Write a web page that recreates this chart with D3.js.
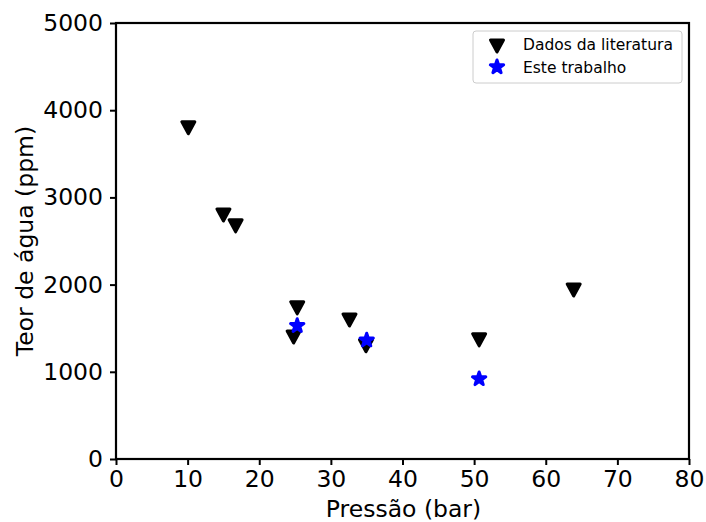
<!DOCTYPE html>
<html>
<head>
<meta charset="utf-8">
<script src="https://cdn.jsdelivr.net/npm/d3@7"></script>
<style>
  body { margin: 0; background: #fff; }
  svg { display: block; font-family: "DejaVu Sans", sans-serif; }
</style>
</head>
<body>
<svg id="chart" width="706" height="522"></svg>
<script>
// Literature data: pressure (bar) and water content (ppm)
const litPressure = [10.1, 15.0, 16.7, 25.3, 24.8, 32.6, 34.9, 50.7, 63.9];
const litWater    = [3810, 2810, 2685, 1745, 1410, 1605, 1310, 1378, 1950];
// This work
const ownPressure = [25.3, 35.0, 50.7];
const ownWater    = [1528, 1362, 918];

const xTicks = [0, 10, 20, 30, 40, 50, 60, 70, 80];
const yTicks = [0, 1000, 2000, 3000, 4000, 5000];
const legendLabels = ["Dados da literatura", "Este trabalho"];

const svg = d3.select("#chart");
const m = { left: 116, top: 23, right: 689, bottom: 459 };

const x = d3.scaleLinear().domain([0, 80]).range([m.left, m.right]);
const y = d3.scaleLinear().domain([0, 5000]).range([m.bottom, m.top]);

// axes
const xAxis = svg.append("g").attr("transform", `translate(0,${m.bottom})`)
  .call(d3.axisBottom(x).tickValues(xTicks).tickSize(6).tickPadding(5).tickFormat(d3.format("d")));
const yAxis = svg.append("g").attr("transform", `translate(${m.left},0)`)
  .call(d3.axisLeft(y).tickValues(yTicks).tickSize(6).tickPadding(7).tickFormat(d3.format("d")));
[xAxis, yAxis].forEach(g => {
  g.select(".domain").remove();
  g.selectAll(".tick line").attr("stroke", "#000").attr("stroke-width", 2);
  g.selectAll(".tick text").attr("fill", "#000").style("font-size", "23.5px")
    .style("font-family", "DejaVu Sans, sans-serif");
});

// frame
svg.append("rect").attr("x", m.left).attr("y", m.top)
  .attr("width", m.right - m.left).attr("height", m.bottom - m.top)
  .attr("fill", "none").attr("stroke", "#000").attr("stroke-width", 2.2);

// axis titles
svg.append("text").attr("x", (m.left + m.right) / 2 + 1).attr("y", 517)
  .attr("text-anchor", "middle").style("font-size", "23.5px").text("Pressão (bar)");
svg.append("text").attr("transform", `translate(33,${(m.top + m.bottom) / 2}) rotate(-90)`)
  .attr("text-anchor", "middle").style("font-size", "23.5px").text("Teor de água (ppm)");

// markers
const triPath = "M-6.5,-5 L6.5,-5 L0,7 Z";
const star = d3.symbol().type(d3.symbolStar).size(55)();

svg.append("g").selectAll("path").data(d3.range(litPressure.length)).join("path")
  .attr("d", triPath)
  .attr("transform", i => `translate(${x(litPressure[i])},${y(litWater[i])})`)
  .attr("fill", "#000").attr("stroke", "#000").attr("stroke-width", 3)
  .attr("stroke-linejoin", "round");

svg.append("g").selectAll("path").data(d3.range(ownPressure.length)).join("path")
  .attr("d", star)
  .attr("transform", i => `translate(${x(ownPressure[i])},${y(ownWater[i])})`)
  .attr("fill", "#0000ff").attr("stroke", "#0000ff").attr("stroke-width", 3)
  .attr("stroke-linejoin", "round");

// legend
const lg = svg.append("g");
lg.append("rect").attr("x", 473).attr("y", 31).attr("width", 209).attr("height", 52)
  .attr("rx", 3).attr("fill", "#fff").attr("stroke", "#ccc").attr("stroke-width", 1);
lg.append("path").attr("d", triPath).attr("transform", "translate(497,45)")
  .attr("fill", "#000").attr("stroke", "#000").attr("stroke-width", 3).attr("stroke-linejoin", "round");
lg.append("path").attr("d", star).attr("transform", "translate(497,67)")
  .attr("fill", "#0000ff").attr("stroke", "#0000ff").attr("stroke-width", 3).attr("stroke-linejoin", "round");
lg.selectAll("text").data(legendLabels).join("text")
  .attr("x", 523).attr("y", (d, i) => 49.5 + i * 23)
  .style("font-size", "15.5px").text(d => d);
</script>
</body>
</html>
